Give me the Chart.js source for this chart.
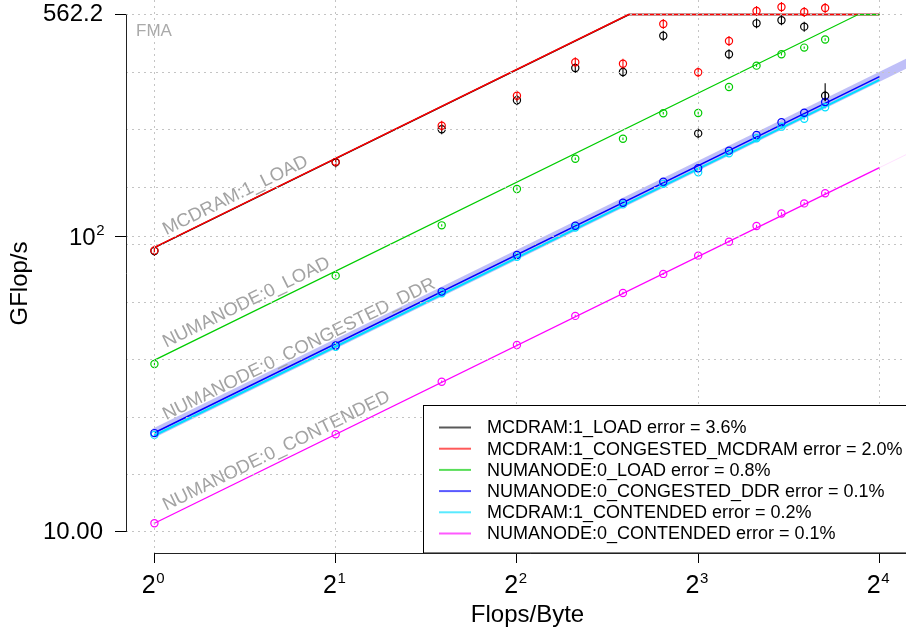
<!DOCTYPE html>
<html>
<head>
<meta charset="utf-8">
<script src="https://cdn.jsdelivr.net/npm/chart.js@4.4.1/dist/chart.umd.min.js"></script>
<style>
  html, body { margin: 0; padding: 0; background: #fff; }
  #wrap { width: 906px; height: 634px; position: relative; }
</style>
</head>
<body>
<div id="wrap"><canvas id="roofline"></canvas></div>
<script>
    // operational intensity of each measured kernel (flops/byte)
    const intensity = [1, 2, 3, 4, 5, 6, 7, 8, 9, 10, 11, 12, 13];

    // measured GFlop/s
    const mcdramLoad      = [89.2, 177.8, 230.0, 288.5, 370.9, 359.4, 476.5, 222.8, 412.5, 525.0, 537.7, 511.6, 298.9];
    const mcdramCongested = [89.6, 178.5, 236.6, 298.9, 388.0, 383.4, 522.6, 358.5, 457.6, 578.0, 596.3, 573.5, 591.5];
    const numaLoad        = [37.0, 73.6, 108.9, 144.5, 183.0, 213.8, 260.6, 261.3, 319.8, 377.6, 412.6, 434.6, 462.7];
    const numaCongDdr     = [21.6, 42.7, 65.0, 86.5, 108.6, 129.9, 153.0, 169.8, 194.8, 220.1, 243.0, 261.8, 284.6];
    const mcdramContended = [21.3, 42.3, 64.2, 85.3, 107.0, 128.2, 150.4, 164.6, 190.9, 214.5, 234.8, 249.8, 273.1];
    const numaContended   = [10.7, 21.4, 32.2, 42.9, 53.8, 64.3, 74.6, 86.0, 95.9, 108.3, 119.4, 129.2, 139.8];

    // fitted roofline models (vertices)
    const roofMcdramLoadX = [1, 6.14, 16];
    const roofMcdramLoadY = [91.5, 562.2, 562.2];
    const roofMcdramCongX = [1, 6.13, 16];
    const roofMcdramCongY = [91.7, 562.2, 562.2];
    const roofNumaLoadX = [1, 14.75, 16];
    const roofNumaLoadY = [38.1, 562.2, 562.2];
    const roofNumaCongDdrX = [1, 16];
    const roofNumaCongDdrY = [21.65, 346.6];
    const roofMcdramContX = [1, 16];
    const roofMcdramContY = [21.2, 338.0];
    const roofNumaContX = [1, 16];
    const roofNumaContY = [10.7, 170.6];
    // shaded band around the DDR fit and faint tail of the contended fit
    const bandX = [1, 18];
    const bandY = [21.65, 389.7];
    const tailX = [16, 18];
    const tailY = [170.6, 191.9];

    // one long error bar (MCDRAM:1_LOAD at 13 flops/byte)
    const errX = [13];
    const errLo = [286];
    const errHi = [329];

    const legendLabels = [
        'MCDRAM:1_LOAD error = 3.6%',
        'MCDRAM:1_CONGESTED_MCDRAM error = 2.0%',
        'NUMANODE:0_LOAD error = 0.8%',
        'NUMANODE:0_CONGESTED_DDR error = 0.1%',
        'MCDRAM:1_CONTENDED error = 0.2%',
        'NUMANODE:0_CONTENDED error = 0.1%'
    ];
    const seriesColors = ['#000000', '#ff0000', '#00cc00', '#0000ff', '#00dfff', '#ff00ff'];

    // x ticks are powers of two: base and exponent drawn separately
    const xTicks = [1, 2, 4, 8, 16];
    const xTickExp = ['0', '1', '2', '3', '4'];
    const yGridTicks = [10, 15.64, 24.46, 38.26, 59.84, 93.6, 100, 146.4, 229.0, 358.2, 562.2];
    const yTickValues = [10, 100, 562.2];
    const yTickLabels = ['10.00', '', '562.2'];

    const xMin = 0.897, xMax = 17.71;
    const yMin = 8.49, yMax = 629.6;

    const FONT = '"Liberation Sans", Arial, Helvetica, sans-serif';

    function roof(label, xs, ys, color, order, lineLabel, width) {
        return {
            label: label,
            data: xs.map((x, i) => ({ x: x, y: ys[i] })),
            showLine: true,
            borderColor: color,
            backgroundColor: color,
            borderWidth: width || 1.5,
            pointRadius: 0,
            pointHoverRadius: 0,
            order: order,
            lineLabel: lineLabel
        };
    }

    function points(label, ys, color, order, stem) {
        return {
            label: label,
            data: intensity.map((x, i) => ({ x: x, y: ys[i] })),
            showLine: false,
            borderColor: color,
            backgroundColor: 'rgba(0,0,0,0)',
            pointRadius: 3.6,
            pointHoverRadius: 3.6,
            pointBorderWidth: 1.2,
            order: order,
            stem: stem,
            clip: false
        };
    }

    const datasets = [
        roof('band', bandX, bandY, 'rgba(60,60,235,0.33)', 30, null, 9),
        roof('tail', tailX, tailY, 'rgba(255,0,255,0.12)', 29, null, 1),
        roof('MCDRAM:1_LOAD fit', roofMcdramLoadX, roofMcdramLoadY, seriesColors[0], 26, 'MCDRAM:1_LOAD'),
        roof('MCDRAM:1_CONGESTED_MCDRAM fit', roofMcdramCongX, roofMcdramCongY, seriesColors[1], 25, null),
        roof('NUMANODE:0_LOAD fit', roofNumaLoadX, roofNumaLoadY, seriesColors[2], 24, 'NUMANODE:0_LOAD', 1.3),
        roof('NUMANODE:0_CONGESTED_DDR fit', roofNumaCongDdrX, roofNumaCongDdrY, seriesColors[3], 23, 'NUMANODE:0_CONGESTED_DDR'),
        roof('MCDRAM:1_CONTENDED fit', roofMcdramContX, roofMcdramContY, seriesColors[4], 22, null, 2),
        roof('NUMANODE:0_CONTENDED fit', roofNumaContX, roofNumaContY, seriesColors[5], 21, 'NUMANODE:0_CONTENDED', 1.3),
        points('MCDRAM:1_LOAD', mcdramLoad, seriesColors[0], 16, 5),
        points('MCDRAM:1_CONGESTED_MCDRAM', mcdramCongested, seriesColors[1], 15, 5),
        points('NUMANODE:0_LOAD', numaLoad, seriesColors[2], 14, 1.2),
        points('NUMANODE:0_CONGESTED_DDR', numaCongDdr, seriesColors[3], 12, 0),
        points('MCDRAM:1_CONTENDED', mcdramContended, seriesColors[4], 13, 1.2),
        points('NUMANODE:0_CONTENDED', numaContended, seriesColors[5], 11, 1.2)
    ];

    // base text followed by a raised smaller exponent
    function powerLabel(ctx, base, exp, x, y, baseSize, expSize, align) {
        ctx.font = baseSize + 'px ' + FONT;
        const wb = ctx.measureText(base).width;
        ctx.font = expSize + 'px ' + FONT;
        const we = ctx.measureText(exp).width;
        const x0 = align === 'right' ? x - wb - we : x - (wb + we) / 2;
        ctx.textAlign = 'left';
        ctx.textBaseline = 'alphabetic';
        ctx.font = baseSize + 'px ' + FONT;
        ctx.fillText(base, x0, y);
        ctx.font = expSize + 'px ' + FONT;
        ctx.fillText(exp, x0 + wb + 0.5, y - baseSize * 0.42);
    }

    const decor = {
        id: 'decor',
        afterDatasetsDraw(chart) {
            const ctx = chart.ctx;
            const xs = chart.scales.x, ys = chart.scales.y;
            chart.data.datasets.forEach((ds, i) => {
                const meta = chart.getDatasetMeta(i);
                if (ds.stem) {
                    ctx.save();
                    ctx.strokeStyle = ds.borderColor;
                    ctx.lineWidth = 1.1;
                    meta.data.forEach(p => {
                        ctx.beginPath();
                        ctx.moveTo(p.x, p.y - ds.stem);
                        ctx.lineTo(p.x, p.y + ds.stem);
                        ctx.stroke();
                    });
                    ctx.restore();
                }
                if (ds.lineLabel) {
                    const a = meta.data[0], b = meta.data[1];
                    const ang = Math.atan2(b.y - a.y, b.x - a.x);
                    ctx.save();
                    ctx.translate(a.x, a.y);
                    ctx.rotate(ang);
                    ctx.font = '18.5px ' + FONT;
                    ctx.fillStyle = '#a3a3a3';
                    ctx.textBaseline = 'alphabetic';
                    ctx.fillText(ds.lineLabel, 16, -6);
                    ctx.restore();
                }
            });
            // error bar
            ctx.save();
            ctx.strokeStyle = '#000';
            ctx.lineWidth = 1.1;
            errX.forEach((x, i) => {
                const px = xs.getPixelForValue(x);
                ctx.beginPath();
                ctx.moveTo(px, ys.getPixelForValue(errLo[i]));
                ctx.lineTo(px, ys.getPixelForValue(errHi[i]));
                ctx.stroke();
            });
            ctx.restore();
        },
        afterDraw(chart) {
            const ctx = chart.ctx;
            const area = chart.chartArea;
            const xs = chart.scales.x, ys = chart.scales.y;

            // legend
            const lx = 423.5, ly = 405.5;
            ctx.save();
            ctx.fillStyle = '#fff';
            ctx.fillRect(lx, ly, 500, area.bottom - ly);
            ctx.strokeStyle = '#000';
            ctx.lineWidth = 1;
            ctx.strokeRect(lx, ly, 500, area.bottom - ly);
            ctx.font = '18px ' + FONT;
            ctx.textBaseline = 'middle';
            legendLabels.forEach((txt, k) => {
                const y = 427.5 + k * 21.2;
                ctx.globalAlpha = 0.65;
                ctx.strokeStyle = seriesColors[k];
                ctx.lineWidth = 2;
                ctx.beginPath();
                ctx.moveTo(439, y);
                ctx.lineTo(471, y);
                ctx.stroke();
                ctx.globalAlpha = 1;
                ctx.fillStyle = '#000';
                ctx.fillText(txt, 487, y + 1);
            });
            ctx.restore();

            // R style axis lines
            ctx.save();
            ctx.strokeStyle = '#222';
            ctx.lineWidth = 1;
            ctx.beginPath();
            ctx.moveTo(area.left + 0.5, ys.getPixelForValue(562.2));
            ctx.lineTo(area.left + 0.5, ys.getPixelForValue(10));
            ctx.moveTo(xs.getPixelForValue(1), area.bottom + 0.5);
            ctx.lineTo(area.right, area.bottom + 0.5);
            ctx.stroke();

            // power-of-ten / power-of-two tick labels
            ctx.fillStyle = '#000';
            xTicks.forEach((v, i) => {
                powerLabel(ctx, '2', xTickExp[i], xs.getPixelForValue(v) - 1.5, 593, 25, 15, 'center');
            });
            powerLabel(ctx, '10', '2', 104, ys.getPixelForValue(100) + 8.5, 24, 15, 'right');

            // titles and roof label
            ctx.font = '24px ' + FONT;
            ctx.textAlign = 'center';
            ctx.textBaseline = 'alphabetic';
            ctx.fillText('Flops/Byte', 527.5, 622);
            ctx.save();
            ctx.translate(27, 283.5);
            ctx.rotate(-Math.PI / 2);
            ctx.fillText('GFlop/s', 0, 0);
            ctx.restore();
            ctx.textAlign = 'left';
            ctx.font = '17px ' + FONT;
            ctx.fillStyle = '#aaaaaa';
            ctx.fillText('FMA', 136, 36);
            ctx.restore();
        }
    };

    const gridColor = '#c4c4c4';

    new Chart(document.getElementById('roofline'), {
        type: 'scatter',
        data: { datasets: datasets },
        plugins: [decor],
        options: {
            responsive: true,
            maintainAspectRatio: false,
            animation: false,
            layout: { padding: 0, autoPadding: false },
            plugins: {
                legend: { display: false },
                tooltip: { enabled: false }
            },
            scales: {
                x: {
                    type: 'logarithmic',
                    position: 'bottom',
                    min: xMin,
                    max: xMax,
                    afterBuildTicks: s => { s.ticks = xTicks.map(v => ({ value: v })); },
                    afterFit: s => { s.height = 81; s.paddingLeft = 0; s.paddingRight = 0; },
                    ticks: { display: false, autoSkip: false },
                    grid: { color: gridColor, lineWidth: 1, tickLength: 10, tickColor: '#000', borderDash: [2, 4], z: 1 },
                    border: { display: false, dash: [2, 4] }
                },
                y: {
                    type: 'logarithmic',
                    min: yMin,
                    max: yMax,
                    afterBuildTicks: s => { s.ticks = yGridTicks.map(v => ({ value: v })); },
                    afterFit: s => { s.width = 126; s.paddingTop = 0; s.paddingBottom = 0; },
                    ticks: {
                        callback: v => { const i = yTickValues.indexOf(v); return i < 0 ? '' : yTickLabels[i]; },
                        font: { family: FONT, size: 24 },
                        color: '#000',
                        padding: 12,
                        autoSkip: false
                    },
                    grid: {
                        color: gridColor,
                        lineWidth: 1,
                        tickLength: 11,
                        tickColor: c => (c.tick && yTickValues.includes(c.tick.value)) ? '#000' : 'rgba(0,0,0,0)',
                        borderDash: [2, 4],
                        z: 1
                    },
                    border: { display: false, dash: [2, 4] }
                }
            }
        }
    });
</script>
</body>
</html>
